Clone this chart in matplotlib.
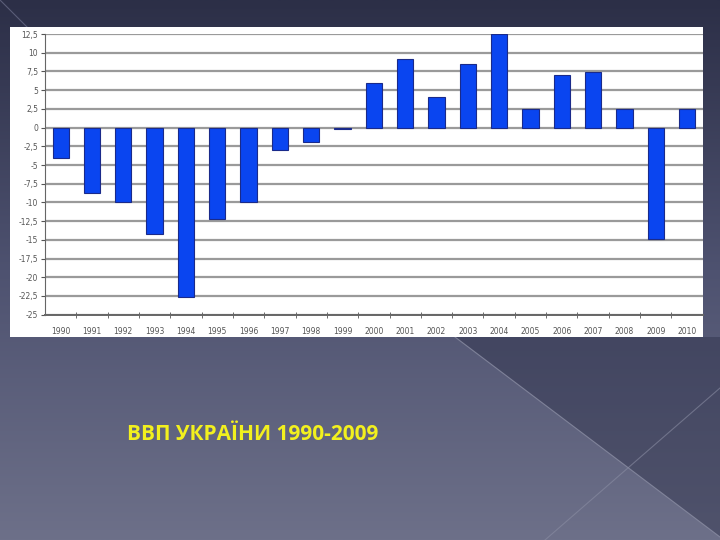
import matplotlib.pyplot as plt
import matplotlib.patches as patches
import numpy as np

# GDP growth of Ukraine, %
years = ['1990', '1991', '1992', '1993', '1994', '1995', '1996', '1997', '1998', '1999',
         '2000', '2001', '2002', '2003', '2004', '2005', '2006', '2007', '2008', '2009', '2010']
gdp = [-4.0, -8.7, -9.9, -14.2, -22.7, -12.2, -10.0, -3.0, -1.9, -0.2,
       5.9, 9.2, 4.1, 8.5, 12.5, 2.5, 7.0, 7.4, 2.5, -14.9, 2.5]
yticks = np.arange(-25, 12.6, 2.5)
title = 'ВВП УКРАЇНИ 1990-2009'

fig = plt.figure(figsize=(7.2, 5.4), dpi=100)

# slide background: dark gradient with diagonal lines
bg = fig.add_axes([0, 0, 1, 1], zorder=0)
grad = np.linspace(0, 1, 256).reshape(-1, 1)
bg.imshow(grad, extent=[0, 720, 0, 540], aspect='auto', cmap=plt.matplotlib.colors.LinearSegmentedColormap.from_list(
    'slide', ['#6d7089', '#4e5270', '#2c2f47']), origin='lower')
bg.add_patch(patches.Polygon([[455, 203], [720, 3], [720, 203]], closed=True,
                             facecolor='#2c2f48', alpha=0.45, lw=0))
bg.plot([455, 720], [203, 3], color='#8a8da3', lw=0.8, alpha=0.8)
bg.plot([545, 720], [0, 152], color='#8a8da3', lw=0.8, alpha=0.6)
bg.plot([0, 30], [540, 510], color='#5a5d78', lw=0.8)
bg.set_xlim(0, 720)
bg.set_ylim(0, 540)
bg.axis('off')

# white chart picture
fig.patches.append(patches.Rectangle((0.014, 0.376), 0.962, 0.574, transform=fig.transFigure,
                                     facecolor='white', edgecolor='none', zorder=1))

ax = fig.add_axes([0.0625, 0.4172, 0.9135, 0.5198], zorder=2)
ax.patch.set_alpha(0)
x = np.arange(len(years))
ax.bar(x, gdp, width=0.52, color='#0a45f0', edgecolor='#1a2a8a', linewidth=0.8, zorder=3)
ax.set_xlim(-0.5, len(years) - 0.5)
ax.set_ylim(-25, 12.5)
ax.set_yticks(yticks)
ax.set_yticklabels([('%g' % v).replace('.', ',') for v in yticks], fontsize=5.5, color='#555555')
ax.set_xticks(x)
ax.set_xticklabels(years, fontsize=5.5, color='#555555')
ax.set_xticks(x[:-1] + 0.5, minor=True)
ax.tick_params(axis='x', which='major', length=0, pad=9)
ax.tick_params(axis='x', which='minor', length=4, direction='inout', color='#555555')
ax.tick_params(axis='y', length=3, color='#555555', pad=2)
for v in yticks:
    ax.axhline(v, color='#9a9a9a', lw=1.6, zorder=1)
for s in ['top', 'right']:
    ax.spines[s].set_visible(False)
ax.spines['left'].set_color('#666666')
ax.spines['bottom'].set_color('#666666')
ax.spines['bottom'].set_linewidth(1.4)

fig.text(0.176, 0.196, title, fontsize=15, fontweight='bold', color='#f2f01e',
         family=['Open Sans', 'DejaVu Sans'], va='center', ha='left')

fig.savefig('out.png', dpi=100)
